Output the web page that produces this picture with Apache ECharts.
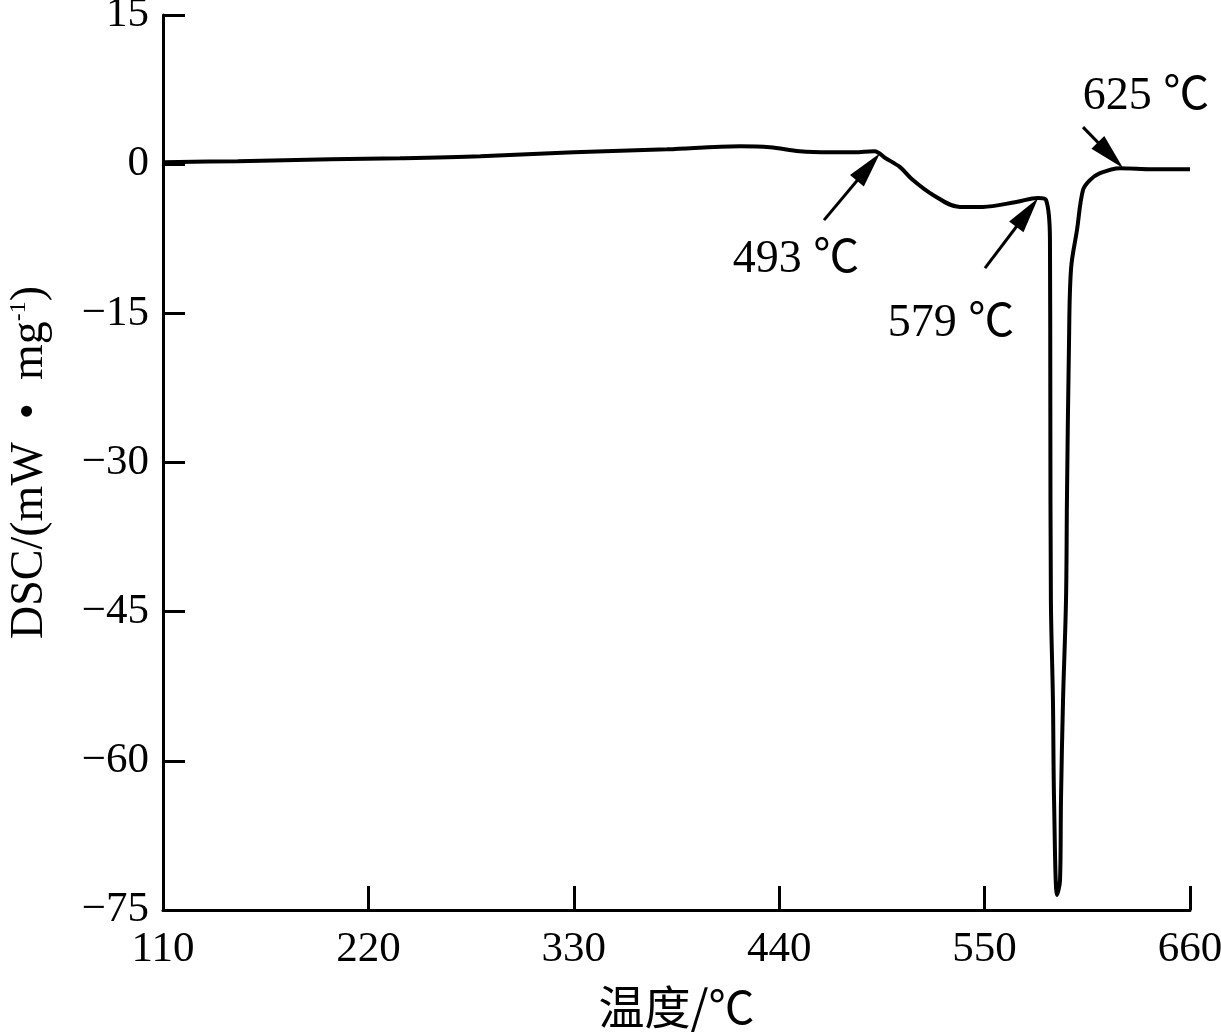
<!DOCTYPE html>
<html>
<head>
<meta charset="utf-8">
<script src="https://cdn.jsdelivr.net/npm/echarts@6/dist/echarts.min.js"></script>
<style>html,body{margin:0;padding:0;background:#fff}#c{width:1221px;height:1034px}</style>
</head>
<body>
<div id="c"></div>
<script>
// Temperature (°C)
const temps = [110, 150, 200, 237, 280, 330, 380, 419, 435, 451, 467, 480, 491, 497, 504.7, 511.6, 522.4, 536.8, 549, 567, 578.6,
  582.9, 585.0, 585.2, 585.5, 586.6, 587.2, 588.8, 590.4, 590.9, 592.0, 593.6, 594.1, 595.2, 596.3, 599.5, 602.7, 606.4, 611.8, 622.5, 640, 660];
// DSC (mW/mg)
const dsc = [0.2, 0.3, 0.5, 0.6, 0.8, 1.2, 1.5, 1.8, 1.7, 1.3, 1.2, 1.2, 1.3, 0.6, -0.3, -1.6, -3.1, -4.3, -4.3, -3.8, -3.4,
  -3.6, -7.6, -23.7, -43.8, -53.9, -64.0, -73.5, -72.0, -64.0, -53.9, -43.8, -33.8, -18.0, -10.5, -6.6, -2.6, -1.6, -0.9, -0.4, -0.5, -0.5];

const xTicks = [110, 220, 330, 440, 550, 660];
const yTicks = [-75, -60, -45, -30, -15, 0, 15];

// Annotations: label text, label anchor, arrow tail, arrow head centre (data units)
const annLabels = ['493 ℃', '579 ℃', '625 ℃'];
const annLabelPos = [[449, -9.6], [532, -16.1], [636.4, 6.8]];
const annArrowFrom = [[464.0, -5.63], [550.2, -10.46], [602.7, 3.72]];
const annArrowTo = [[487.8, -0.28], [572.8, -4.86], [617.4, 0.9]];

const serif = '"Liberation Serif", "Times New Roman", "Noto Sans CJK SC", serif';

const lineData = temps.map((t, i) => [t, dsc[i]]);

const chart = echarts.init(document.getElementById('c'), null, {renderer: 'canvas'});
chart.setOption({
  animation: false,
  backgroundColor: '#fff',
  grid: {left: 163, top: 15, right: 31, bottom: 124, containLabel: false, outerBoundsMode: 'none'},
  xAxis: {
    type: 'value', min: xTicks[0], max: xTicks[xTicks.length - 1], interval: 110,
    name: '温度/℃', nameLocation: 'middle', nameGap: 74,
    nameTextStyle: {fontFamily: '"Noto Sans CJK SC", serif', fontSize: 46, color: '#000'},
    axisLine: {onZero: false, lineStyle: {color: '#000', width: 3}},
    axisTick: {inside: true, length: 24, lineStyle: {color: '#000', width: 3}},
    axisLabel: {color: '#000', fontFamily: serif, fontSize: 43, margin: 18},
    splitLine: {show: false}
  },
  yAxis: {
    type: 'value', min: yTicks[0], max: yTicks[yTicks.length - 1], interval: 15,
    name: 'DSC/(mW  •  mg{sup|-1})', nameLocation: 'middle', nameGap: 110, nameRotate: 90,
    nameTextStyle: {fontFamily: serif, fontSize: 46, color: '#000',
      rich: {sup: {fontFamily: serif, fontSize: 24, color: '#000', verticalAlign: 'top', padding: [0, 0, 18, 0]}}},
    axisLine: {onZero: false, lineStyle: {color: '#000', width: 3}},
    axisTick: {inside: true, length: 22, lineStyle: {color: '#000', width: 3}},
    axisLabel: {color: '#000', fontFamily: serif, fontSize: 43, margin: 14,
      formatter: v => (v < 0 ? '\u2212' + Math.abs(v) : String(v))},
    splitLine: {show: false}
  },
  series: [{
    type: 'line',
    data: lineData,
    showSymbol: false,
    symbol: 'none',
    smooth: 0.35,
    lineStyle: {color: '#000', width: 4},
    markLine: {
      silent: true,
      symbol: ['none', 'triangle'],
      symbolSize: [18, 36],
      label: {show: false},
      lineStyle: {color: '#000', width: 3, type: 'solid'},
      data: annArrowFrom.map((f, i) => [{coord: f}, {coord: annArrowTo[i]}])
    },
    markPoint: {
      silent: true,
      symbol: 'rect',
      symbolSize: 1,
      itemStyle: {color: 'rgba(0,0,0,0)'},
      label: {show: true, position: 'inside', color: '#000', fontFamily: serif, fontSize: 46,
        formatter: p => p.name},
      data: annLabels.map((s, i) => ({name: s, coord: annLabelPos[i]}))
    }
  }]
});
</script>
</body>
</html>
